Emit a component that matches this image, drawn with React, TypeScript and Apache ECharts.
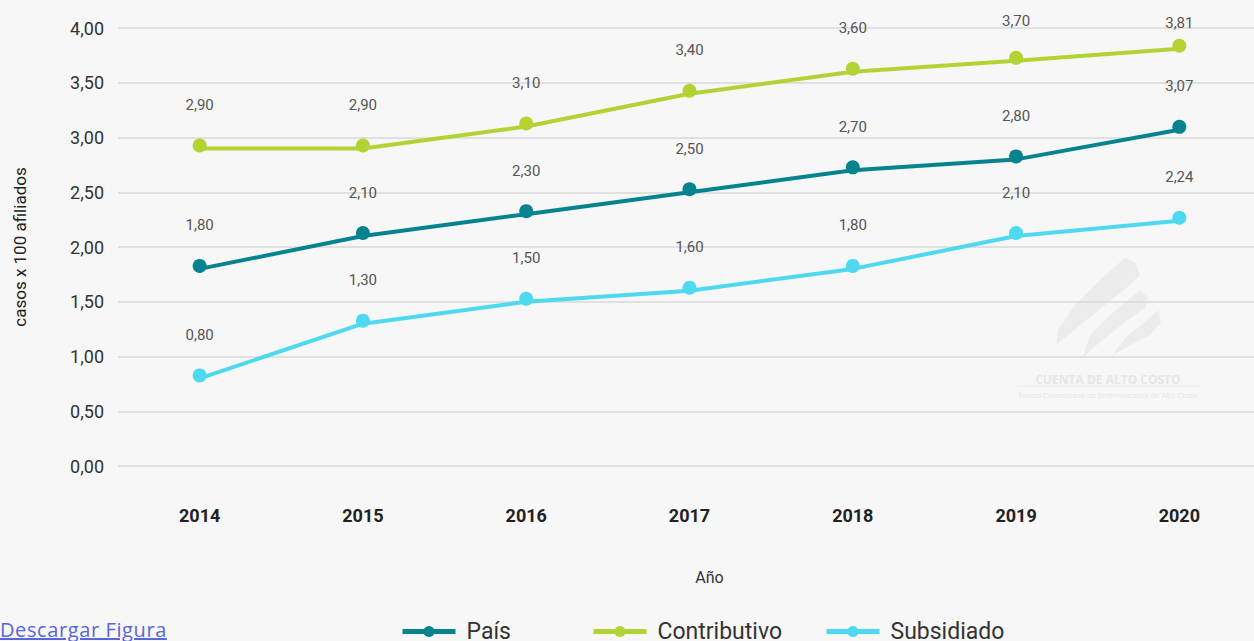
import React, { useEffect, useRef } from "react";
import * as echarts from "echarts";

const years = ["2014", "2015", "2016", "2017", "2018", "2019", "2020"];
const pais = [1.8, 2.1, 2.3, 2.5, 2.7, 2.8, 3.07];
const contributivo = [2.9, 2.9, 3.1, 3.4, 3.6, 3.7, 3.81];
const subsidiado = [0.8, 1.3, 1.5, 1.6, 1.8, 2.1, 2.24];
const seriesNames = ["País", "Contributivo", "Subsidiado"];
const colors = ["#06838f", "#b3d335", "#4fd9f0"];

const fmt = (v: number) => v.toFixed(2).replace(".", ",");

export default function App() {
  const ref = useRef<HTMLDivElement>(null);
  useEffect(() => {
    if (!ref.current) return;
    const chart = echarts.init(ref.current, null, { renderer: "svg" });
    const all = [pais, contributivo, subsidiado];
    const mkData = (arr: number[], si: number) =>
      arr.map((v, i) => {
        if (si === 1 && i === arr.length - 1) return { value: v, label: { distance: 8 } };
        if (si === 1 && i === arr.length - 2) return { value: v, label: { distance: 22 } };
        return v;
      });
    const legendLefts = [400, 591, 824];
    chart.setOption({
      animation: false,
      backgroundColor: "#f7f7f7",
      textStyle: { fontFamily: "Roboto" },
      grid: { left: 118, right: 0, top: 28, bottom: 175 },
      legend: seriesNames.map((n, i) => ({
        data: [n],
        left: legendLefts[i],
        top: 620,
        padding: 0,
        itemWidth: 53,
        itemHeight: 14,
        itemGap: 0,
        lineStyle: { width: 5 },
        textStyle: { fontSize: 23, color: "#333", fontFamily: "Roboto", padding: [0, 0, 0, 6] },
      })),
      xAxis: {
        type: "category",
        data: years,
        boundaryGap: true,
        axisLine: { show: false },
        axisTick: { show: false },
        axisLabel: { fontSize: 18, fontWeight: "bold", color: "#222", margin: 40 },
        name: "Año",
        nameLocation: "middle",
        nameGap: 103,
        nameTextStyle: { fontSize: 16, color: "#333", padding: [0, 0, 0, 40] },
      },
      yAxis: {
        type: "value",
        min: 0,
        max: 4,
        interval: 0.5,
        axisLabel: { fontSize: 18, color: "#333", margin: 14, formatter: (v: number) => fmt(v) },
        splitLine: { lineStyle: { color: "#d9d9d9", width: 1.5 } },
        name: "casos x 100 afiliados",
        nameLocation: "middle",
        nameGap: 90,
        nameTextStyle: { fontSize: 17, color: "#222" },
      },
      graphic: [
        {
          type: "group",
          z: -10,
          silent: true,
          children: [
            { type: "polygon", shape: { points: [[1056, 345], [1058, 330], [1075, 305], [1100, 280], [1125, 258], [1135, 262], [1140, 275], [1130, 285], [1105, 305], [1080, 325]] }, style: { fill: "#ececec" } },
            { type: "polygon", shape: { points: [[1083, 357], [1090, 335], [1110, 315], [1140, 290], [1148, 298], [1145, 308], [1125, 322], [1100, 342]] }, style: { fill: "#ececec" } },
            { type: "polygon", shape: { points: [[1112, 356], [1125, 338], [1145, 322], [1158, 310], [1161, 322], [1150, 335], [1130, 345]] }, style: { fill: "#ececec" } },
            { type: "text", x: 1108, y: 379, style: { text: "CUENTA DE ALTO COSTO", fontSize: 12, fontWeight: "bold", fill: "#e6e6e6", align: "center", verticalAlign: "middle", fontFamily: "Open Sans" } },
            { type: "line", shape: { x1: 1017, y1: 386, x2: 1200, y2: 386 }, style: { stroke: "#ececec", lineWidth: 1 } },
            { type: "text", x: 1108, y: 395, style: { text: "Fondo Colombiano de Enfermedades de Alto Costo", fontSize: 7.5, fill: "#e6e6e6", align: "center", verticalAlign: "middle", fontFamily: "Open Sans" } },
          ],
        },
      ],
      series: all.map((arr, si) => ({
        name: seriesNames[si],
        type: "line",
        data: mkData(arr, si),
        color: colors[si],
        symbol: "circle",
        symbolSize: 14,
        symbolOffset: [0, -3],
        lineStyle: { width: 4, color: colors[si] },
        itemStyle: { color: colors[si] },
        label: {
          show: true,
          position: "top",
          distance: 26,
          fontSize: 15,
          color: "#555",
          fontFamily: "Roboto",
          formatter: (p: any) => fmt(p.value),
        },
      })),
    });
    return () => chart.dispose();
  }, []);
  return (
    <div style={{ position: "fixed", left: 0, top: 0, width: 1254, height: 641, background: "#f7f7f7", overflow: "hidden" }}>
      <div ref={ref} style={{ width: 1261, height: 641 }} />
      <a
        href="#"
        style={{ position: "absolute", left: 0, top: 620, fontSize: 20, letterSpacing: 0.6, color: "#5866d9", fontFamily: "Open Sans", textDecoration: "underline", lineHeight: "20px", whiteSpace: "nowrap" }}
      >
        Descargar Figura
      </a>
    </div>
  );
}
